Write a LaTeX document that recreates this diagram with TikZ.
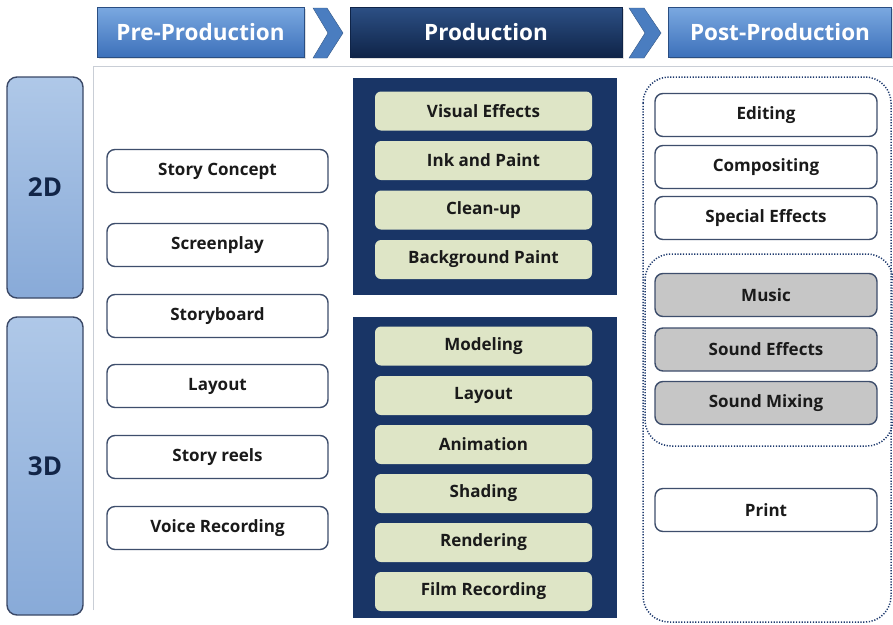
\documentclass[tikz,border=0pt]{standalone}
\usepackage{fontspec}
\setmainfont{Open Sans}
\usetikzlibrary{shadows}
\definecolor{hdrlightT}{HTML}{7AA8E0}
\definecolor{hdrlightB}{HTML}{3C70BA}
\definecolor{hdrdarkT}{HTML}{2C4F84}
\definecolor{hdrdarkB}{HTML}{0F2448}
\definecolor{chev}{HTML}{4A7DC0}
\definecolor{sideT}{HTML}{AFC8E8}
\definecolor{sideB}{HTML}{88AAD8}
\definecolor{sideedge}{HTML}{3A4866}
\definecolor{boxedge}{HTML}{3E4E6C}
\definecolor{navy}{HTML}{193566}
\definecolor{pale}{HTML}{DEE5C6}
\definecolor{greybox}{HTML}{C6C6C6}
\definecolor{txt}{HTML}{1A1A1A}
\definecolor{frame}{HTML}{C9CED6}
\definecolor{dotc}{HTML}{1E3A6E}
\tikzset{
  hdr/.style={minimum height=50pt, text=white, font=\fontsize{22.5}{26}\selectfont\bfseries,
    inner sep=0pt, drop shadow={opacity=0.25, shadow xshift=1.5pt, shadow yshift=-1.5pt}},
  hdrlight/.style={hdr, top color=hdrlightT, bottom color=hdrlightB, draw=hdrlightB!70!black, line width=0.6pt},
  hdrdark/.style={hdr, top color=hdrdarkT, bottom color=hdrdarkB, draw=hdrdarkB, line width=0.6pt},
  sidebox/.style={rounded corners=10pt, top color=sideT, bottom color=sideB, draw=sideedge,
    line width=1.4pt, minimum width=76pt, inner sep=0pt, text=navy!70!black,
    font=\fontsize{26}{30}\selectfont\bfseries},
  prebox/.style={rounded corners=8pt, fill=white, draw=boxedge, line width=1.4pt,
    minimum width=221pt, minimum height=43pt, inner sep=0pt, text=txt,
    font=\fontsize{17}{20}\selectfont\bfseries},
  prodbox/.style={rounded corners=6pt, fill=pale, draw=none,
    minimum width=217pt, minimum height=39pt, inner sep=0pt, text=txt,
    font=\fontsize{17}{20}\selectfont\bfseries},
  postbox/.style={prebox, minimum width=222pt},
  soundbox/.style={postbox, fill=greybox},
  panel/.style={fill=navy, draw=none, inner sep=0pt},
  grouping/.style={draw=dotc, line width=1.5pt, dash pattern=on 1.2pt off 1.6pt, rounded corners=26pt},
  chevron/.style={fill=chev, draw=chev!70!black, line width=0.4pt}
}
\begin{document}
\begin{tikzpicture}[x=1pt, y=-1pt]
\useasboundingbox (0,0) rectangle (893,624);
\fill[white] (0,0) rectangle (893,624);

% stage headers
\node[hdrlight, minimum width=207pt] (pre)  at (200.5,32.5) {Pre-Production};
\node[hdrdark,  minimum width=272pt] (prod) at (486,32.5)  {Production};
\node[hdrlight, minimum width=223pt] (post) at (780,32.5)  {Post-Production};

% chevrons between the stages
\filldraw[chevron] (313,8) -- (327,8) -- (343,33) -- (327,58) -- (313,58) -- (328,33) -- cycle;
\filldraw[chevron] (629,8) -- (644,8) -- (661,33) -- (644,58) -- (629,58) -- (645,33) -- cycle;

% thin frame under the headers
\draw[frame, line width=1pt] (93,610) -- (93,66) -- (893,66);

% 2D / 3D side bars
\node[sidebox, minimum height=221pt] (twoD)   at (45,187.5) {2D};
\node[sidebox, minimum height=298pt] (threeD) at (45,466)   {3D};

% pre-production steps
\node[prebox] (concept)    at (217.5,171) {Story Concept};
\node[prebox] (screenplay) at (217.5,245) {Screenplay};
\node[prebox] (storyboard) at (217.5,316) {Storyboard};
\node[prebox] (prelayout)  at (217.5,386) {Layout};
\node[prebox] (reels)      at (217.5,457) {Story reels};
\node[prebox] (voice)      at (217.5,528) {Voice Recording};

% production panels
\node[panel, minimum width=264pt, minimum height=217pt] (panel2d) at (485,186.5) {};
\node[panel, minimum width=264pt, minimum height=301pt] (panel3d) at (485,467.5) {};

% 2D production steps
\node[prodbox] (vfx)   at (483.5,111) {Visual Effects};
\node[prodbox] (ink)   at (483.5,160.5) {Ink and Paint};
\node[prodbox] (clean) at (483.5,210) {Clean-up};
\node[prodbox] (bg)    at (483.5,259.5) {Background Paint};

% 3D production steps
\node[prodbox] (model)  at (483.5,346) {Modeling};
\node[prodbox] (layout) at (483.5,395.5) {Layout};
\node[prodbox] (anim)   at (483.5,444.5) {Animation};
\node[prodbox] (shade)  at (483.5,493.5) {Shading};
\node[prodbox] (render) at (483.5,542.5) {Rendering};
\node[prodbox] (film)   at (483.5,591.5) {Film Recording};

% post-production groupings
\draw[grouping] (643,77) rectangle (891,622);
\draw[grouping] (645,254) rectangle (893,446);

% post-production steps
\node[postbox]  (edit)    at (766,115) {Editing};
\node[postbox]  (comp)    at (766,167) {Compositing};
\node[postbox]  (sfx)     at (766,218) {Special Effects};
\node[soundbox] (music)   at (766,295) {Music};
\node[soundbox] (sound)   at (766,349.5) {Sound Effects};
\node[soundbox] (mixing)  at (766,403) {Sound Mixing};
\node[postbox]  (print)   at (766,510) {Print};
\end{tikzpicture}
\end{document}
